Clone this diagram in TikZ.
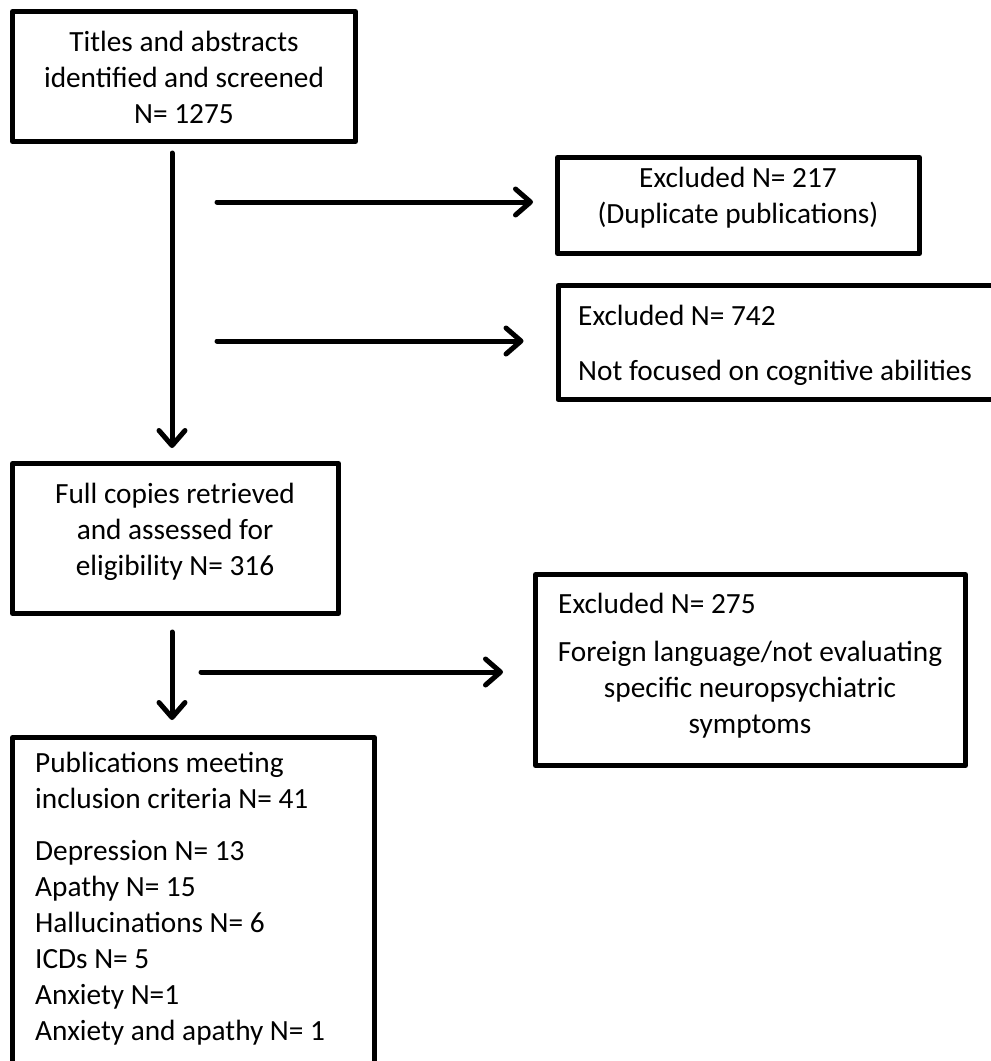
\documentclass[tikz,border=0pt]{standalone}
\usepackage{fontspec}
\setmainfont{Carlito}
\usetikzlibrary{arrows.meta}
\tikzset{
  box/.style={draw, line width=5pt, line join=round, inner sep=0pt},
  txt/.style={inner sep=0pt, font=\fontsize{29.3}{36}\selectfont},
  arr/.style={line width=5pt, line cap=round,
    -{Straight Barb[length=15pt,width=26pt,round]},
    preaction={draw=black!20, transform canvas={xshift=1.5pt,yshift=-2pt}}}
}
\begin{document}
\begin{tikzpicture}[x=1pt,y=-1pt]
\useasboundingbox (0,0) rectangle (991,1061);
% boxes
\node[box, minimum width=343pt, minimum height=130pt] (b1) at (184,76.5) {};
\node[box, minimum width=362pt, minimum height=96pt] (b2) at (738.5,205.5) {};
\node[box, minimum width=442pt, minimum height=114pt] (b3) at (779,342.5) {};
\node[box, minimum width=326pt, minimum height=150pt] (b4) at (175.5,538.5) {};
\node[box, minimum width=430pt, minimum height=191pt] (b5) at (750.5,670) {};
\node[box, minimum width=362pt, minimum height=338pt] (b6) at (193.5,906.5) {};
% texts (anchored at the last baseline)
\node[txt, align=center, anchor=base] (t1) at (184,123) {Titles and abstracts\\identified and screened\\N= 1275};
\node[txt, align=center, anchor=base] (t2) at (738,223) {Excluded N= 217\\(Duplicate publications)};
\node[txt, align=left, anchor=base west] (t3) at (578,380) {Excluded N= 742\\[19pt]Not focused on cognitive abilities};
\node[txt, align=center, anchor=base] (t4) at (175,575) {Full copies retrieved\\and assessed for\\eligibility N= 316};
\node[txt, anchor=base west] (t5) at (558,613) {Excluded N= 275};
\node[txt, align=center, anchor=base] (t6) at (750,733) {Foreign language/not evaluating\\specific neuropsychiatric\\symptoms};
\node[txt, align=left, anchor=base west] (t7) at (35,1040) {Publications meeting\\inclusion criteria N= 41\\[16pt]Depression N= 13\\Apathy N= 15\\Hallucinations N= 6\\ICDs N= 5\\Anxiety N=1\\Anxiety and apathy N= 1};
% arrows
\coordinate (v1) at (172,153);
\coordinate (v2) at (172,632);
\coordinate (h1) at (217,202);
\coordinate (h2) at (217,341);
\coordinate (h3) at (201,672);
\path[draw,arr,shorten >=13pt] (v1) -- (v1 |- b4.north);
\path[draw,arr,shorten >=22pt] (h1) -- (h1 -| b2.west);
\path[draw,arr,shorten >=32pt] (h2) -- (h2 -| b3.west);
\path[draw,arr,shorten >=15pt] (v2) -- (v2 |- b6.north);
\path[draw,arr,shorten >=30pt] (h3) -- (h3 -| b5.west);
\end{tikzpicture}
\end{document}
